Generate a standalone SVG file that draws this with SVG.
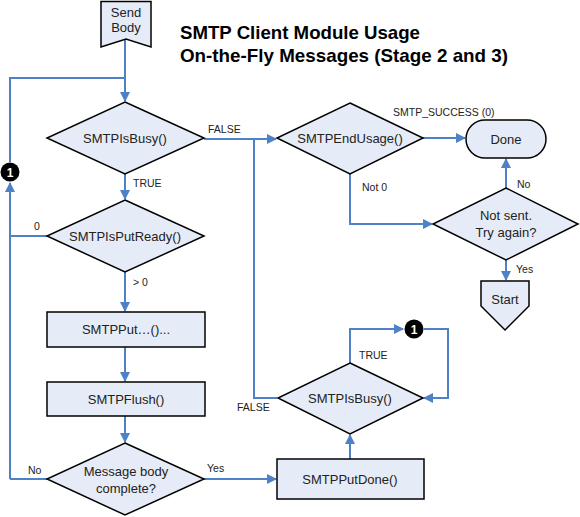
<svg xmlns="http://www.w3.org/2000/svg" width="580" height="517" viewBox="0 0 580 517">
<defs>
<style>
.n{fill:#E6ECF7;stroke:#000;stroke-width:1.5;stroke-linejoin:miter}
.t{font-family:"Liberation Sans",Arial,sans-serif;font-size:13px;fill:#222;text-anchor:middle}
.l{font-family:"Liberation Sans",Arial,sans-serif;font-size:10.5px;fill:#222}
.c{fill:none;stroke:#4F81C7;stroke-width:2}
.ttl{font-family:"Liberation Sans",Arial,sans-serif;font-size:18.5px;font-weight:bold;fill:#000}
</style>
<marker id="a" viewBox="0 0 10 10" refX="9" refY="5" markerWidth="5" markerHeight="5" orient="auto" markerUnits="strokeWidth">
<path d="M0,0 L10,5 L0,10 z" fill="#4F81C7"/>
</marker>
</defs>
<rect width="580" height="517" fill="#fff"/>
<g id="title">
<text class="ttl" x="180" y="39" textLength="240" lengthAdjust="spacingAndGlyphs">SMTP Client Module Usage</text>
<text class="ttl" x="180" y="62" textLength="328" lengthAdjust="spacingAndGlyphs">On-the-Fly Messages (Stage 2 and 3)</text>
</g>
<g id="connectors">
<path class="c" d="M125,39 V101" marker-end="url(#a)"/>
<path class="c" d="M125,78 H10 V162"/>
<path class="c" d="M10,479 V183" marker-end="url(#a)"/>
<path class="c" d="M47,236 H10"/>
<path class="c" d="M125,174 V199" marker-end="url(#a)"/>
<path class="c" d="M125,272 V311" marker-end="url(#a)"/>
<path class="c" d="M125,347 V381" marker-end="url(#a)"/>
<path class="c" d="M125,416 V442" marker-end="url(#a)"/>
<path class="c" d="M47,479 H10"/>
<path class="c" d="M204,479 H276" marker-end="url(#a)"/>
<path class="c" d="M350,459 V435" marker-end="url(#a)"/>
<path class="c" d="M350,363 V329 H403" marker-end="url(#a)"/>
<path class="c" d="M424,329 H448 V398 H424" marker-end="url(#a)"/>
<path class="c" d="M277,398 H254 V139"/>
<path class="c" d="M204,139 H276" marker-end="url(#a)"/>
<path class="c" d="M423,138 H465" marker-end="url(#a)"/>
<path class="c" d="M350,174 V224 H432" marker-end="url(#a)"/>
<path class="c" d="M506,188 V159" marker-end="url(#a)"/>
<path class="c" d="M506,260 V280" marker-end="url(#a)"/>
</g>
<g id="labels">
<text class="l" x="208" y="133">FALSE</text>
<text class="l" x="133" y="187">TRUE</text>
<text class="l" x="34" y="230">0</text>
<text class="l" x="133" y="286">&gt; 0</text>
<text class="l" x="28" y="474">No</text>
<text class="l" x="207" y="472">Yes</text>
<text class="l" x="359" y="359">TRUE</text>
<text class="l" x="237" y="411">FALSE</text>
<text class="l" x="393" y="116">SMTP_SUCCESS (0)</text>
<text class="l" x="362" y="191">Not 0</text>
<text class="l" x="517" y="188">No</text>
<text class="l" x="516" y="273">Yes</text>
</g>
<g id="sendBody">
<path class="n" d="M101,1.5 H151 V47 L126,39 L101,47 Z"/>
<text class="t" x="126" y="17">Send</text>
<text class="t" x="126" y="32">Body</text>
</g>
<g id="conn1a">
<circle cx="10" cy="172" r="9.5" fill="#000"/>
<text x="10" y="177" font-family="Liberation Sans,Arial,sans-serif" font-size="12" font-weight="bold" fill="#fff" text-anchor="middle">1</text>
</g>
<g id="isBusy1">
<path class="n" d="M125,102 L204,138 L125,174 L47,138 Z"/>
<text class="t" x="125" y="143">SMTPIsBusy()</text>
</g>
<g id="isPutReady">
<path class="n" d="M125,200 L204,236 L125,272 L47,236 Z"/>
<text class="t" x="125" y="241">SMTPIsPutReady()</text>
</g>
<g id="put">
<rect class="n" x="47" y="312" width="158" height="35"/>
<text class="t" x="126" y="334">SMTPPut…()...</text>
</g>
<g id="flush">
<rect class="n" x="47" y="382" width="158" height="34"/>
<text class="t" x="126" y="404">SMTPFlush()</text>
</g>
<g id="complete">
<path class="n" d="M125,443 L204,479 L125,515 L47,479 Z"/>
<text class="t" x="126" y="476">Message body</text>
<text class="t" x="126" y="493">complete?</text>
</g>
<g id="putDone">
<rect class="n" x="277" y="459" width="147" height="40"/>
<text class="t" x="350" y="484">SMTPPutDone()</text>
</g>
<g id="isBusy2">
<path class="n" d="M350,363 L423,398 L350,434 L278,398 Z"/>
<text class="t" x="350" y="403">SMTPIsBusy()</text>
</g>
<g id="conn1b">
<circle cx="414" cy="329" r="9.5" fill="#000"/>
<text x="414" y="334" font-family="Liberation Sans,Arial,sans-serif" font-size="12" font-weight="bold" fill="#fff" text-anchor="middle">1</text>
</g>
<g id="endUsage">
<path class="n" d="M350,103 L423,138 L350,174 L277,138 Z"/>
<text class="t" x="350" y="143">SMTPEndUsage()</text>
</g>
<g id="done">
<rect class="n" x="466" y="120" width="80" height="38" rx="19" ry="19"/>
<text class="t" x="506" y="144">Done</text>
</g>
<g id="tryAgain">
<path class="n" d="M506,188 L578,224 L506,260 L433,224 Z"/>
<text class="t" x="506" y="220">Not sent.</text>
<text class="t" x="506" y="237">Try again?</text>
</g>
<g id="start">
<path class="n" d="M481,281 H529 V306 L505,330 L481,306 Z"/>
<text class="t" x="505" y="304">Start</text>
</g>
</svg>
